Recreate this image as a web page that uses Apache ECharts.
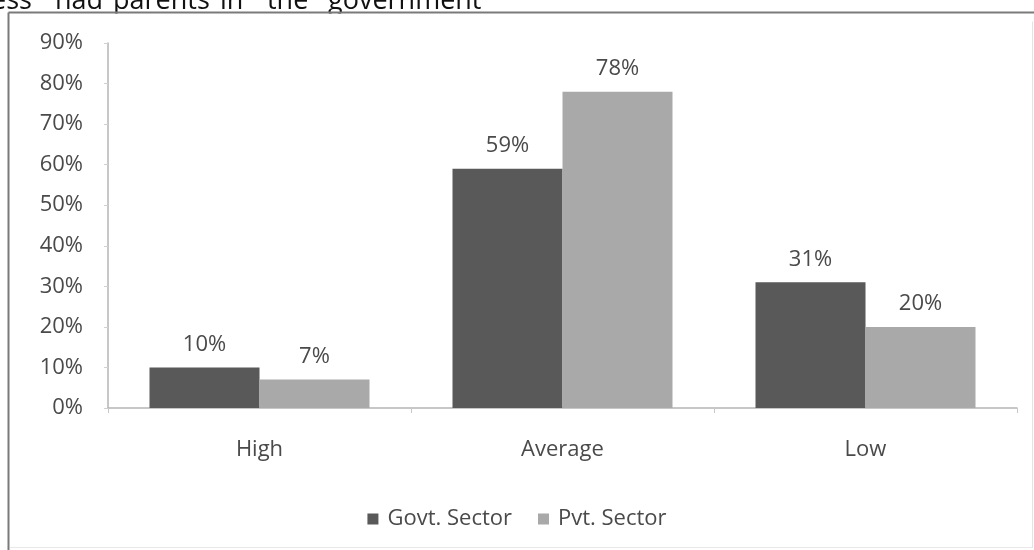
<!DOCTYPE html>
<html>
<head>
<meta charset="utf-8">
<script src="https://cdn.jsdelivr.net/npm/echarts@6/dist/echarts.min.js"></script>
<style>
  html, body { margin: 0; padding: 0; background: #fff; }
  #chart { width: 1034px; height: 550px; }
</style>
</head>
<body>
<div id="chart"></div>
<script>
// data
let categories = ['High', 'Average', 'Low'];
let govtData = [10, 59, 31];
let pvtData = [7, 78, 20];
let seriesNames = ['Govt. Sector', 'Pvt. Sector'];

// words of the cut-off paragraph line above the chart
let headWords = ['ess', 'had', 'parents', 'in', 'the', 'government'];
let headX = [-9, 55, 113, 220, 267, 328];

var myChart = echarts.init(document.getElementById('chart'));

let labelFont = {
    fontFamily: 'Open Sans',
    fontSize: 22,
    color: '#4a4a4a'
};

let headText = headWords.map((w, i) => ({
    type: 'text',
    x: headX[i],
    y: 15,
    z: 1,
    style: {
        text: w,
        fontFamily: 'Open Sans',
        fontSize: 27,
        fill: '#111',
        verticalAlign: 'bottom'
    }
}));

var option = {
    animation: false,
    color: ['#595959', '#a9a9a9'],
    grid: {
        left: 108,
        right: 17,
        top: 43,
        bottom: 142
    },
    legend: {
        bottom: 15,
        left: 'center',
        itemWidth: 11,
        itemHeight: 11,
        itemGap: 26,
        icon: 'rect',
        textStyle: Object.assign({}, labelFont, { padding: [0, 0, 0, 4] }),
        data: seriesNames
    },
    xAxis: {
        type: 'category',
        data: categories,
        axisLine: { lineStyle: { color: '#b5b5b5', width: 1.5 } },
        axisTick: { show: true, length: 5, lineStyle: { color: '#c8c8c8' } },
        axisLabel: Object.assign({ margin: 31 }, labelFont)
    },
    yAxis: {
        type: 'value',
        min: 0,
        max: 90,
        interval: 10,
        axisLine: { show: true, lineStyle: { color: '#b5b5b5', width: 1.5 } },
        axisTick: { show: true, length: 4, lineStyle: { color: '#d0d0d0' } },
        splitLine: { show: false },
        axisLabel: Object.assign({ margin: 25, formatter: '{value}%' }, labelFont)
    },
    series: [
        {
            name: seriesNames[0],
            type: 'bar',
            data: govtData,
            barWidth: 110,
            barGap: '0%',
            label: Object.assign({ show: true, position: 'top', distance: 12, formatter: '{c}%' }, labelFont)
        },
        {
            name: seriesNames[1],
            type: 'bar',
            data: pvtData,
            barWidth: 110,
            barGap: '0%',
            label: Object.assign({ show: true, position: 'top', distance: 12, formatter: '{c}%' }, labelFont)
        }
    ],
    graphic: headText.concat([
        {
            type: 'line',
            z: 5,
            shape: { x1: 8.5, y1: 12.5, x2: 1034, y2: 12.5 },
            style: { stroke: '#7a7a7a', lineWidth: 2 }
        },
        {
            type: 'rect',
            z: 4,
            shape: { x: 0, y: 13.5, width: 1034, height: 8 },
            style: { fill: '#fff' }
        },
        {
            type: 'line',
            z: 5,
            shape: { x1: 8.5, y1: 12.5, x2: 8.5, y2: 550 },
            style: { stroke: '#7a7a7a', lineWidth: 2 }
        },
        {
            type: 'line',
            shape: { x1: 1032.5, y1: 14, x2: 1032.5, y2: 548 },
            style: { stroke: '#e4e4e4', lineWidth: 1 }
        },
        {
            type: 'line',
            shape: { x1: 10, y1: 547.5, x2: 1032, y2: 547.5 },
            style: { stroke: '#e8e8e8', lineWidth: 1 }
        }
    ])
};

myChart.setOption(option);
</script>
</body>
</html>
